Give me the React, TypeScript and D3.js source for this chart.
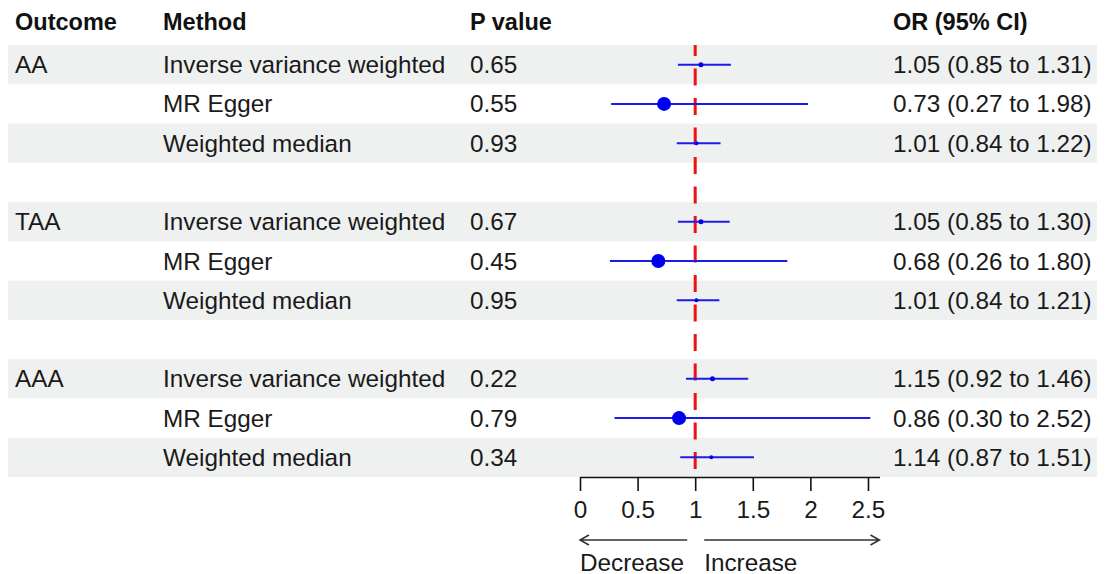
import { axisBottom, scaleBand, scaleLinear, select } from 'd3';
import React, { useEffect, useRef } from 'react';

const WIDTH = 1106;
const HEIGHT = 574;
const FONT = '"Liberation Sans", Arial, Helvetica, sans-serif';
const FONT_SIZE = 24.3;

// Table rows: empty strings mark the spacer rows between outcomes
const outcomes = ['AA', '', '', '', 'TAA', '', '', '', 'AAA', '', ''];
const methods = [
  'Inverse variance weighted',
  'MR Egger',
  'Weighted median',
  '',
  'Inverse variance weighted',
  'MR Egger',
  'Weighted median',
  '',
  'Inverse variance weighted',
  'MR Egger',
  'Weighted median',
];
const pValues = ['0.65', '0.55', '0.93', '', '0.67', '0.45', '0.95', '', '0.22', '0.79', '0.34'];
const estimates = [1.05, 0.73, 1.01, null, 1.05, 0.68, 1.01, null, 1.15, 0.86, 1.14];
const lower = [0.85, 0.27, 0.84, null, 0.85, 0.26, 0.84, null, 0.92, 0.3, 0.87];
const upper = [1.31, 1.98, 1.22, null, 1.3, 1.8, 1.21, null, 1.46, 2.52, 1.51];
const xTicks = [0, 0.5, 1, 1.5, 2, 2.5];

// point radius by method (weight of the estimate)
const pointRadius: Record<string, number> = {
  'Inverse variance weighted': 2.5,
  'MR Egger': 7,
  'Weighted median': 2,
};

const fmt = (v: number) => v.toFixed(2);

const App = (): JSX.Element => {
  const ref = useRef<SVGSVGElement>(null);

  useEffect(() => {
    if (ref.current === null) return;
    ref.current.replaceChildren();

    const svg = select(ref.current)
      .attr('width', WIDTH)
      .attr('height', HEIGHT)
      .style('font-family', FONT);

    const rows = methods.map((_, i) => i);
    const y = scaleBand<number>().domain(rows).range([45, 477]).padding(0);
    const x = scaleLinear().domain([0, 2.6]).range([580, 879.5]);
    const mid = (i: number) => (y(i) ?? 0) + y.bandwidth() / 2;

    // Striped backgrounds
    svg
      .append('g')
      .selectAll()
      .data(rows.filter((i) => i % 2 === 0))
      .join('rect')
      .attr('x', 8)
      .attr('width', 1089)
      .attr('y', (i) => y(i) ?? 0)
      .attr('height', y.bandwidth())
      .attr('fill', '#eff1f0');

    // Header
    const cols = [
      { x: 15, label: 'Outcome', values: outcomes },
      { x: 163, label: 'Method', values: methods },
      { x: 470, label: 'P value', values: pValues },
      {
        x: 893,
        label: 'OR (95% CI)',
        values: estimates.map((e, i) =>
          e === null ? '' : `${fmt(e)} (${fmt(lower[i] as number)} to ${fmt(upper[i] as number)})`,
        ),
      },
    ];

    cols.forEach((c) => {
      svg
        .append('text')
        .attr('x', c.x)
        .attr('y', 22)
        .attr('dominant-baseline', 'central')
        .attr('font-weight', 'bold')
        .attr('font-size', 23.5)
        .attr('fill', '#111')
        .text(c.label);

      svg
        .append('g')
        .selectAll()
        .data(c.values.map((v, i) => ({ v, i })).filter((d) => d.v !== ''))
        .join('text')
        .attr('x', c.x)
        .attr('y', (d) => mid(d.i))
        .attr('dominant-baseline', 'central')
        .attr('font-size', FONT_SIZE)
        .attr('fill', '#1a1a1a')
        .text((d) => d.v);
    });

    const data = rows.filter((i) => estimates[i] !== null);

    // Reference line at OR = 1
    svg
      .append('line')
      .attr('x1', x(1))
      .attr('x2', x(1))
      .attr('y1', 45)
      .attr('y2', 477)
      .attr('stroke', '#ee1111')
      .attr('stroke-width', 3)
      .attr('stroke-dasharray', '17 12.5')
      .attr('stroke-dashoffset', 6);

    // Confidence intervals
    svg
      .append('g')
      .selectAll()
      .data(data)
      .join('line')
      .attr('x1', (i) => x(lower[i] as number))
      .attr('x2', (i) => x(upper[i] as number))
      .attr('y1', (i) => mid(i))
      .attr('y2', (i) => mid(i))
      .attr('stroke', '#1c1ce6')
      .attr('stroke-width', 2);

    // Point estimates
    svg
      .append('g')
      .selectAll()
      .data(data)
      .join('circle')
      .attr('cx', (i) => x(estimates[i] as number))
      .attr('cy', (i) => mid(i))
      .attr('r', (i) => pointRadius[methods[i]])
      .attr('fill', '#0000ee');

    // x-axis
    svg
      .append('g')
      .attr('transform', 'translate(0, 477)')
      .call(axisBottom(x).tickValues(xTicks).tickFormat((d) => String(d)).tickSize(14).tickSizeOuter(0).tickPadding(10))
      .call((g) => g.select('.domain').attr('stroke', '#111').attr('stroke-width', 1.6))
      .call((g) => g.selectAll('.tick line').attr('stroke', '#111').attr('stroke-width', 1.6))
      .call((g) =>
        g
          .selectAll('.tick text')
          .attr('font-size', FONT_SIZE)
          .attr('font-family', FONT)
          .attr('fill', '#1a1a1a'),
      );

    // Direction arrows
    const arrowY = 540;
    const arrows = [
      { from: x(1) - 8, to: x(0), label: 'Decrease', lx: x(0) },
      { from: x(1) + 9, to: x(2.6), label: 'Increase', lx: x(1) + 9 },
    ];
    arrows.forEach((a) => {
      const dir = a.to > a.from ? 1 : -1;
      svg
        .append('path')
        .attr('d', `M${a.from},${arrowY}H${a.to}M${a.to - dir * 9},${arrowY - 5}L${a.to},${arrowY}L${a.to - dir * 9},${arrowY + 5}`)
        .attr('fill', 'none')
        .attr('stroke', '#333')
        .attr('stroke-width', 1.5);
      svg
        .append('text')
        .attr('x', a.lx)
        .attr('y', 562)
        .attr('dominant-baseline', 'central')
        .attr('font-size', FONT_SIZE)
        .attr('fill', '#1a1a1a')
        .text(a.label);
    });
  }, [ref]);

  return <svg ref={ref} style={{ position: 'absolute', left: 0, top: 0 }} />;
};

export default App;
